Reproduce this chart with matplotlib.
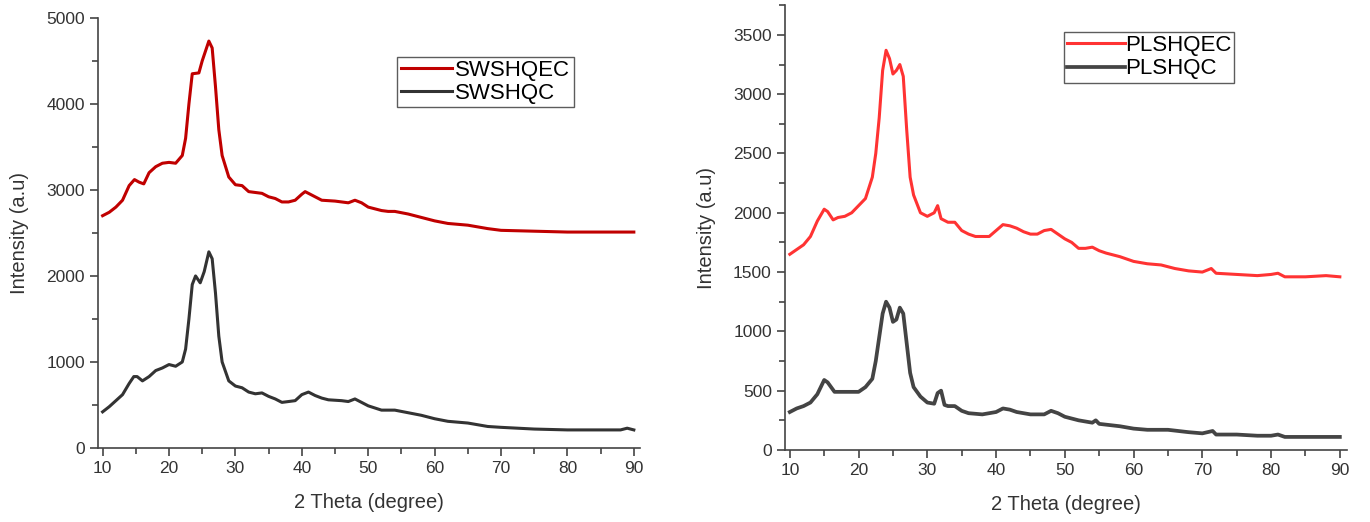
import numpy as np
import matplotlib
matplotlib.use("Agg")
import matplotlib.pyplot as plt
from matplotlib.ticker import MultipleLocator

plt.rcParams['font.family'] = ['Liberation Sans', 'DejaVu Sans']

# SWSHQEC / SWSHQC (left panel)
sw_x = [10, 11, 12, 13, 14, 14.8, 15.5, 16.2, 17, 18, 19, 20, 21, 22, 22.5, 23, 23.5, 24.5, 25, 26,
        26.5, 27, 27.5, 28, 29, 30, 31, 32, 33, 34, 35, 36, 37, 38, 39, 40, 40.5, 41, 42, 43, 45,
        46, 47, 48, 49, 50, 51, 52, 53, 54, 56, 58, 60, 62, 65, 68, 70, 75, 80, 85, 90]
swshqec = [2700, 2740, 2800, 2880, 3050, 3120, 3090, 3070, 3200, 3270, 3310, 3320, 3310, 3400, 3600,
           4000, 4350, 4360, 4500, 4730, 4650, 4200, 3700, 3400, 3150, 3060, 3050, 2980, 2970, 2960,
           2920, 2900, 2860, 2860, 2880, 2950, 2980, 2960, 2920, 2880, 2870, 2860, 2850, 2880, 2850,
           2800, 2780, 2760, 2750, 2750, 2720, 2680, 2640, 2610, 2590, 2550, 2530, 2520, 2510, 2510, 2510]

swc_x = [10, 11, 12, 13, 14, 14.7, 15.2, 16, 17, 18, 19, 20, 21, 22, 22.5, 23, 23.5, 24, 24.7, 25.3,
         26, 26.5, 27, 27.5, 28, 29, 30, 31, 32, 33, 34, 35, 36, 37, 38, 39, 40, 41, 42, 43, 44, 46,
         47, 48, 49, 50, 52, 54, 56, 58, 60, 62, 65, 68, 70, 75, 80, 85, 88, 89, 90]
swshqc = [420, 480, 550, 620, 750, 830, 830, 780, 830, 900, 930, 970, 950, 1000, 1150, 1500, 1900, 2000,
          1920, 2050, 2280, 2200, 1800, 1300, 1000, 780, 720, 700, 650, 630, 640, 600, 570, 530, 540,
          550, 620, 650, 610, 580, 560, 550, 540, 570, 530, 490, 440, 440, 410, 380, 340, 310, 290,
          250, 240, 220, 210, 210, 210, 230, 210]

# PLSHQEC / PLSHQC (right panel)
pl_x = [10, 11, 12, 13, 14, 15, 15.5, 16.3, 17, 18, 19, 20, 21, 22, 22.5, 23, 23.5, 24, 24.5, 25, 25.5,
        26, 26.5, 27, 27.5, 28, 29, 30, 31, 31.5, 32, 33, 34, 35, 36, 37, 38, 39, 40, 41, 42, 43, 44,
        45, 46, 47, 48, 49, 50, 51, 52, 53, 54, 55, 56, 58, 60, 62, 64, 66, 68, 70, 71.3, 72, 75, 78,
        80, 81, 82, 85, 88, 90]
plshqec = [1650, 1690, 1730, 1800, 1930, 2030, 2010, 1940, 1960, 1970, 2000, 2060, 2120, 2300, 2500,
           2800, 3200, 3370, 3300, 3170, 3200, 3250, 3150, 2700, 2300, 2150, 2000, 1970, 2000, 2060,
           1950, 1920, 1920, 1850, 1820, 1800, 1800, 1800, 1850, 1900, 1890, 1870, 1840, 1820, 1820,
           1850, 1860, 1820, 1780, 1750, 1700, 1700, 1710, 1680, 1660, 1630, 1590, 1570, 1560, 1530,
           1510, 1500, 1530, 1490, 1480, 1470, 1480, 1490, 1460, 1460, 1470, 1460]

plc_x = [10, 11, 12, 13, 14, 15, 15.5, 16.5, 18, 20, 21, 22, 22.5, 23, 23.5, 24, 24.5, 25, 25.5, 26,
         26.5, 27, 27.5, 28, 29, 30, 31, 31.5, 32, 32.5, 33, 34, 35, 36, 38, 40, 41, 42, 43, 45, 47,
         48, 49, 50, 52, 54, 54.5, 55, 58, 60, 62, 65, 68, 70, 71.5, 72, 75, 78, 80, 81, 82, 85, 88, 90]
plshqc = [320, 350, 370, 400, 470, 590, 570, 490, 490, 490, 530, 600, 750, 950, 1150, 1250, 1200, 1080,
          1100, 1200, 1150, 900, 650, 530, 450, 400, 390, 480, 500, 380, 370, 370, 330, 310, 300, 320,
          350, 340, 320, 300, 300, 330, 310, 280, 250, 230, 250, 220, 200, 180, 170, 170, 150, 140,
          160, 130, 130, 120, 120, 130, 110, 110, 110, 110]

fig = plt.figure(figsize=(13.7, 5.22), dpi=100)
ax1 = fig.add_axes([0.0715, 0.1418, 0.396, 0.824])
ax2 = fig.add_axes([0.573, 0.138, 0.41, 0.852])


def style(ax, ymax, ymajor, yminor):
    for s in ['top', 'right']:
        ax.spines[s].set_visible(False)
    for s in ['left', 'bottom']:
        ax.spines[s].set_color('#444444')
        ax.spines[s].set_linewidth(1.2)
    ax.set_xlim(9.3, 91)
    ax.set_ylim(0, ymax)
    ax.xaxis.set_major_locator(MultipleLocator(10))
    ax.xaxis.set_minor_locator(MultipleLocator(5))
    ax.yaxis.set_major_locator(MultipleLocator(ymajor))
    ax.yaxis.set_minor_locator(MultipleLocator(yminor))
    ax.tick_params(which='major', direction='out', length=6, width=1.2, labelsize=12.5,
                   colors='#444444', labelcolor='#333333')
    ax.tick_params(which='minor', direction='out', length=4, width=1.2, colors='#444444')
    ax.set_xlabel('2 Theta (degree)', fontsize=14.5, color='#333333', labelpad=12)
    ax.set_ylabel('Intensity (a.u)', fontsize=14.5, color='#333333', labelpad=12)


ax1.plot(sw_x, swshqec, color='#c00000', lw=2.2, label='SWSHQEC')
ax1.plot(swc_x, swshqc, color='#333333', lw=2.2, label='SWSHQC')
style(ax1, 5000, 1000, 500)
ax1.legend(loc='upper left', bbox_to_anchor=(0.552, 0.91), fontsize=16, frameon=True,
           fancybox=False, edgecolor='#333333', handlelength=2.3, handletextpad=0.15,
           borderpad=0.15, labelspacing=0.1, borderaxespad=0)

ax2.plot(pl_x, plshqec, color='#ff3333', lw=2.2, label='PLSHQEC')
ax2.plot(plc_x, plshqc, color='#444444', lw=2.7, label='PLSHQC')
style(ax2, 3750, 500, 250)
ax2.legend(loc='upper left', bbox_to_anchor=(0.496, 0.94), fontsize=16, frameon=True,
           fancybox=False, edgecolor='#333333', handlelength=2.6, handletextpad=0.0,
           borderpad=0.15, labelspacing=0.1, borderaxespad=0)

fig.savefig('out.png', dpi=100)
